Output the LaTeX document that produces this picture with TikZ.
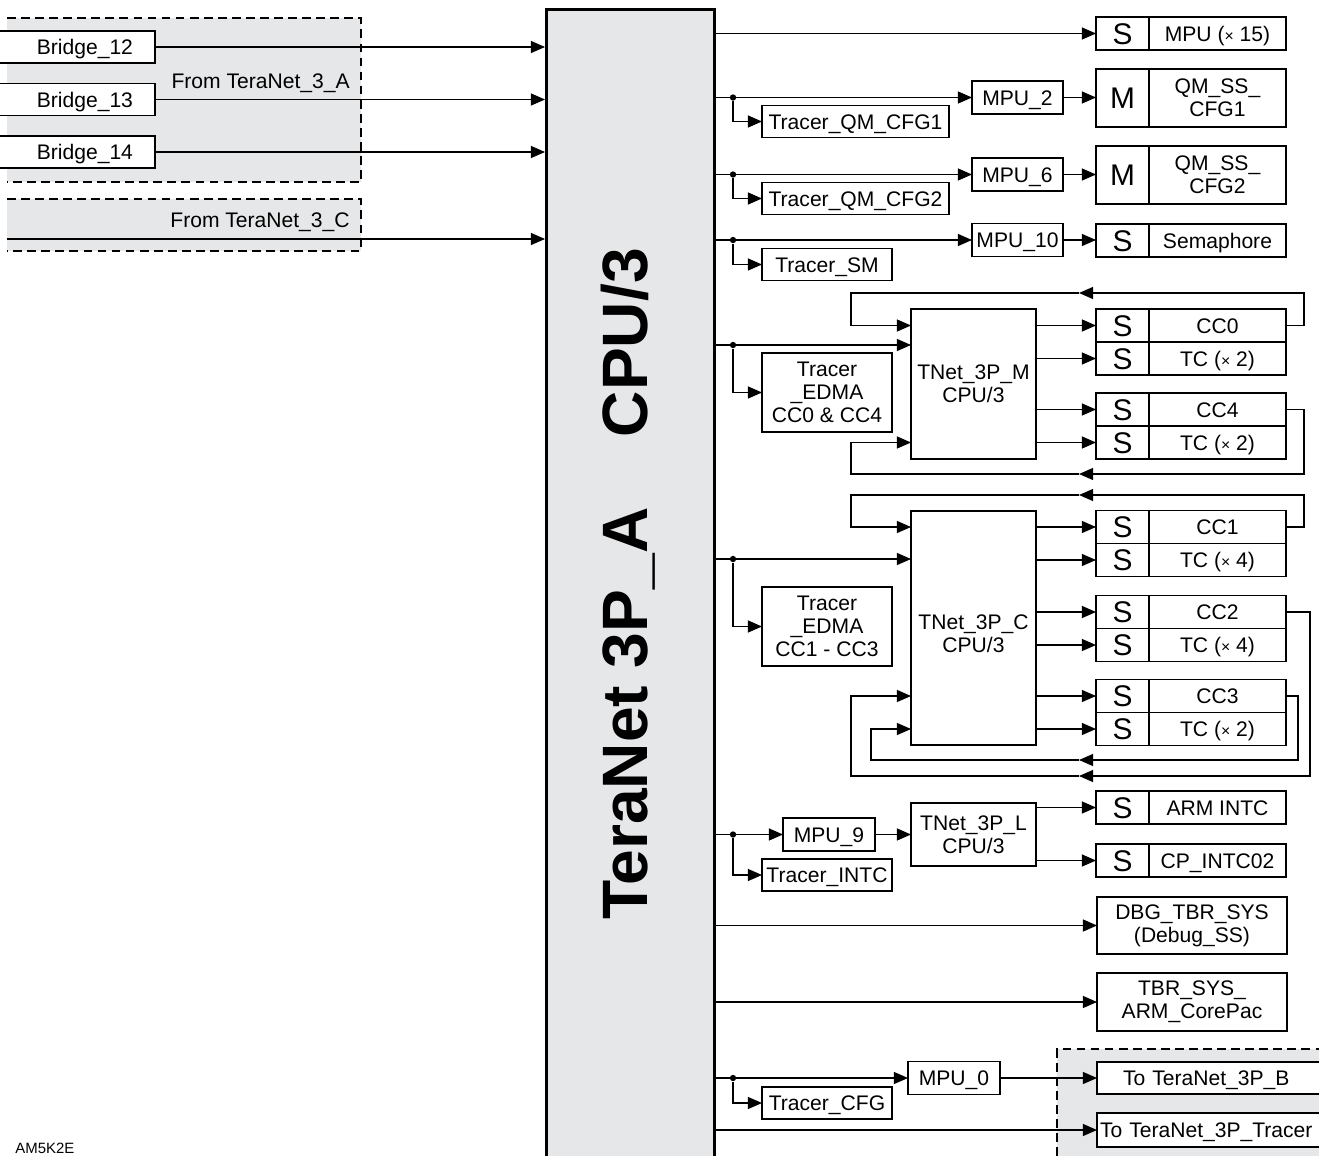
\documentclass[tikz,border=0pt]{standalone}
\usepackage{fontspec}
\setmainfont{Liberation Sans}
\usetikzlibrary{arrows.meta,positioning}

\definecolor{panelgray}{RGB}{230,231,232}
\newcommand{\smtimes}{{\fontsize{9}{9}\selectfont\texttimes}}

\tikzset{
	>={Triangle[length=8pt,width=6.8pt]},
	wire/.style={line width=0.75pt},
	regionline/.style={line width=0.75pt, dash pattern=on 5pt off 3pt},
	blk/.style={draw, line width=0.75pt, fill=white, inner sep=0pt, outer sep=0pt, align=center, font=\fontsize{12}{13}\selectfont},
	oneline/.style={text height=8.6pt, text depth=0pt},
	scell/.style={blk, minimum width=1.06cm, minimum height=0.66cm, font=\fontsize{17}{17}\selectfont, text height=12.2pt, text depth=0pt},
	lcell/.style={blk, oneline, minimum width=2.74cm, minimum height=0.66cm},
	mpubox/.style={blk, oneline, minimum width=1.82cm, minimum height=0.66cm},
	tracer/.style={blk, oneline, minimum width=2.6cm, minimum height=0.64cm},
	tnet/.style={blk, minimum width=2.5cm},
	bridge/.style={blk, oneline, minimum height=0.64cm, text width=2.52cm, inner xsep=0.44cm, align=right},
	dot/.style={circle, fill, inner sep=0pt, minimum size=3.6pt}
}

\begin{document}
\begin{tikzpicture}[x=0.02cm, y=-0.02cm]

		\useasboundingbox (0,0) rectangle (1319,1156);

		% source regions
		\fill[panelgray] (7,18) rectangle (361,182);
		\draw[regionline] (7,18) -- (361,18) -- (361,182) -- (7,182);
		\fill[panelgray] (7,199) rectangle (361,251);
		\draw[regionline] (7,199) -- (361,199) -- (361,251) -- (7,251);
		\node[anchor=base east, font=\fontsize{12}{13}\selectfont, inner sep=0pt] (fromA) at (350,88) {From TeraNet\_3\_A};
		\node[anchor=base east, font=\fontsize{12}{13}\selectfont, inner sep=0pt] (fromC) at (350,227) {From TeraNet\_3\_C};

		% bridges
		\node[bridge] (br12) at (70,47) {Bridge\_12};
		\node[bridge] (br13) at (70,99.5) {Bridge\_13};
		\node[bridge] (br14) at (70,152) {Bridge\_14};

		% main switch
		\node[draw, line width=1.7pt, fill=panelgray, minimum width=3.36cm, minimum height=23.4cm, inner sep=0pt] (main) at (630.5,594) {};
		\node[rotate=90, anchor=base, inner sep=0pt, font=\fontsize{36.5}{37}\selectfont\bfseries] (mainlbl) at (647,584) {TeraNet 3P\_A\hspace{1.1em}CPU/3};

		% inputs
		\coordinate (srcC) at (7,239);
		\draw[wire,->] (br12) -- (br12 -| main.west);
		\draw[wire,->] (br13) -- (br13 -| main.west);
		\draw[wire,->] (br14) -- (br14 -| main.west);
		\draw[wire,->] (srcC) -- (srcC -| main.west);

		% slaves
		\node[scell] (s1) at (1122.5,33.5) {S};
		\node[lcell, right=0pt of s1] (mpu15) {MPU (\smtimes\ 15)};
		\node[scell, minimum height=1.16cm] (m1) at (1122.5,98) {M};
		\node[blk, minimum width=2.74cm, minimum height=1.16cm, right=0pt of m1] (qm1) {QM\_SS\_\\CFG1};
		\node[scell, minimum height=1.16cm] (m2) at (1122.5,175) {M};
		\node[blk, minimum width=2.74cm, minimum height=1.16cm, right=0pt of m2] (qm2) {QM\_SS\_\\CFG2};
		\node[scell] (s4) at (1122.5,240.5) {S};
		\node[lcell, right=0pt of s4] (sema) {Semaphore};

		\node[scell] (scc0) at (1122.5,325.5) {S};
		\node[lcell, right=0pt of scc0] (lcc0) {CC0};
		\node[scell] (stc0) at (1122.5,358.5) {S};
		\node[lcell, right=0pt of stc0] (ltc0) {TC (\smtimes\ 2)};
		\node[scell] (scc4) at (1122.5,409.5) {S};
		\node[lcell, right=0pt of scc4] (lcc4) {CC4};
		\node[scell] (stc4) at (1122.5,442.5) {S};
		\node[lcell, right=0pt of stc4] (ltc4) {TC (\smtimes\ 2)};

		\node[scell] (scc1) at (1122.5,527) {S};
		\node[lcell, right=0pt of scc1] (lcc1) {CC1};
		\node[scell] (stc1) at (1122.5,560) {S};
		\node[lcell, right=0pt of stc1] (ltc1) {TC (\smtimes\ 4)};
		\node[scell] (scc2) at (1122.5,612) {S};
		\node[lcell, right=0pt of scc2] (lcc2) {CC2};
		\node[scell] (stc2) at (1122.5,645) {S};
		\node[lcell, right=0pt of stc2] (ltc2) {TC (\smtimes\ 4)};
		\node[scell] (scc3) at (1122.5,696) {S};
		\node[lcell, right=0pt of scc3] (lcc3) {CC3};
		\node[scell] (stc3) at (1122.5,729) {S};
		\node[lcell, right=0pt of stc3] (ltc3) {TC (\smtimes\ 2)};

		\node[scell] (sarm) at (1122.5,807.5) {S};
		\node[lcell, right=0pt of sarm] (larm) {ARM INTC};
		\node[scell] (scp) at (1122.5,860.5) {S};
		\node[lcell, right=0pt of scp] (lcp) {CP\_INTC02};
		\node[blk, minimum width=3.8cm, minimum height=1.14cm] (dbg) at (1192,925.5) {DBG\_TBR\_SYS\\(Debug\_SS)};
		\node[blk, minimum width=3.8cm, minimum height=1.16cm] (tbr) at (1192,1002) {TBR\_SYS\_\\ARM\_CorePac};

		% outgoing region
		\fill[panelgray] (1057,1049) rectangle (1340,1170);
		\draw[regionline] (1057,1170) -- (1057,1049) -- (1340,1049);
		\node[blk, oneline, anchor=west, minimum height=0.64cm, text width=4.0cm, inner xsep=0.52cm, align=left] (toB) at (1097,1078) {To TeraNet\_3P\_B};
		\node[blk, oneline, anchor=west, minimum height=0.68cm, text width=4.8cm, inner xsep=0.06cm, align=left] (toTr) at (1097,1130) {To TeraNet\_3P\_Tracer};

		% firewalls and tracers
		\node[mpubox] (mpu2) at (1017.5,97.5) {MPU\_2};
		\node[mpubox] (mpu6) at (1017.5,174.5) {MPU\_6};
		\node[mpubox] (mpu10) at (1017.5,240) {MPU\_10};
		\node[tracer, minimum width=3.74cm] (trqm1) at (855.5,121.5) {Tracer\_QM\_CFG1};
		\node[tracer, minimum width=3.74cm] (trqm2) at (855.5,198.5) {Tracer\_QM\_CFG2};
		\node[tracer] (trsm) at (827,264.5) {Tracer\_SM};
		\node[blk, minimum width=2.6cm, minimum height=1.58cm] (tredm) at (827,392.5) {Tracer\\\_EDMA\\CC0 \& CC4};
		\node[blk, minimum width=2.6cm, minimum height=1.58cm] (tredc) at (827,626.5) {Tracer\\\_EDMA\\CC1 - CC3};
		\node[mpubox, minimum width=1.84cm] (mpu9) at (829,834.5) {MPU\_9};
		\node[tracer] (trintc) at (827,875) {Tracer\_INTC};
		\node[mpubox, minimum width=1.84cm] (mpu0) at (954,1078) {MPU\_0};
		\node[tracer] (trcfg) at (827,1103) {Tracer\_CFG};

		% sub switches
		\node[tnet, minimum height=3.0cm] (tnm) at (973.5,384) {TNet\_3P\_M\\CPU/3};
		\node[tnet, minimum height=4.68cm] (tnc) at (973.5,628) {};
		\node[align=center, font=\fontsize{12}{13}\selectfont, inner sep=0pt] (tnctxt) at (973.5,634) {TNet\_3P\_C\\CPU/3};
		\node[tnet, minimum height=1.26cm] (tnl) at (973.5,834.5) {TNet\_3P\_L\\CPU/3};

		% branch points
		\node[dot] (d1) at (733,97.5) {};
		\node[dot] (d2) at (733,174.5) {};
		\node[dot] (d3) at (733,240) {};
		\node[dot] (d4) at (733,345) {};
		\node[dot] (d5) at (733,559) {};
		\node[dot] (d6) at (733,834.5) {};
		\node[dot] (d7) at (733,1078) {};

		% main outputs
		\draw[wire,->] (main.east |- s1) -- (s1);
		\draw[wire,->] (main.east |- d1) -- (mpu2);
		\draw[wire,->] (d1) |- (trqm1);
		\draw[wire,->] (mpu2) -- (mpu2 -| m1.west);
		\draw[wire,->] (main.east |- d2) -- (mpu6);
		\draw[wire,->] (d2) |- (trqm2);
		\draw[wire,->] (mpu6) -- (mpu6 -| m2.west);
		\draw[wire,->] (main.east |- d3) -- (mpu10);
		\draw[wire,->] (d3) |- (trsm);
		\draw[wire,->] (mpu10) -- (mpu10 -| s4.west);
		\draw[wire,->] (main.east |- d4) -- (d4 -| tnm.west);
		\draw[wire,->] (d4) |- (tredm);
		\draw[wire,->] (main.east |- d5) -- (d5 -| tnc.west);
		\draw[wire,->] (d5) |- (tredc);
		\draw[wire,->] (main.east |- d6) -- (mpu9);
		\draw[wire,->] (d6) |- (trintc);
		\draw[wire,->] (mpu9) -- (tnl);
		\draw[wire,->] (main.east |- dbg) -- (dbg);
		\draw[wire,->] (main.east |- tbr) -- (tbr);
		\draw[wire,->] (main.east |- d7) -- (mpu0);
		\draw[wire,->] (d7) |- (trcfg);
		\draw[wire,->] (mpu0) -- (mpu0 -| toB.west);
		\draw[wire,->] (main.east |- toTr) -- (toTr);

		% TNet_3P_M outputs and loops
		\draw[wire,->] (tnm.east |- scc0) -- (scc0);
		\draw[wire,->] (tnm.east |- stc0) -- (stc0);
		\draw[wire,->] (tnm.east |- scc4) -- (scc4);
		\draw[wire,->] (tnm.east |- stc4) -- (stc4);
		\draw[wire,->] (lcc0.east) -- ++(18,0) |- (1079,293);
		\draw[wire,->] (1079,293) -| (851,325.5) -- (tnm.west |- lcc0);
		\draw[wire,->] (lcc4.east) -- ++(18,0) |- (1079,474);
		\draw[wire,->] (1079,474) -| (851,442.5) -- (tnm.west |- ltc4);

		% TNet_3P_C outputs and loops
		\draw[wire,->] (tnc.east |- scc1) -- (scc1);
		\draw[wire,->] (tnc.east |- stc1) -- (stc1);
		\draw[wire,->] (tnc.east |- scc2) -- (scc2);
		\draw[wire,->] (tnc.east |- stc2) -- (stc2);
		\draw[wire,->] (tnc.east |- scc3) -- (scc3);
		\draw[wire,->] (tnc.east |- stc3) -- (stc3);
		\draw[wire,->] (lcc1.east) -- ++(18,0) |- (1079,495);
		\draw[wire,->] (1079,495) -| (851,527) -- (tnc.west |- lcc1);
		\draw[wire,->] (lcc2.east) -- ++(24,0) |- (1079,776);
		\draw[wire,->] (1079,776) -| (851,696) -- (tnc.west |- lcc3);
		\draw[wire,->] (lcc3.east) -- ++(12,0) |- (1079,760);
		\draw[wire,->] (1079,760) -| (871,729) -- (tnc.west |- ltc3);

		% TNet_3P_L outputs
		\draw[wire,->] (tnl.east |- sarm) -- (sarm);
		\draw[wire,->] (tnl.east |- scp) -- (scp);

		% figure tag
		\node[anchor=north west, inner sep=0pt, font=\fontsize{8.5}{9}\selectfont] (tag) at (15,1143) {AM5K2E};

	\end{tikzpicture}
\end{document}
